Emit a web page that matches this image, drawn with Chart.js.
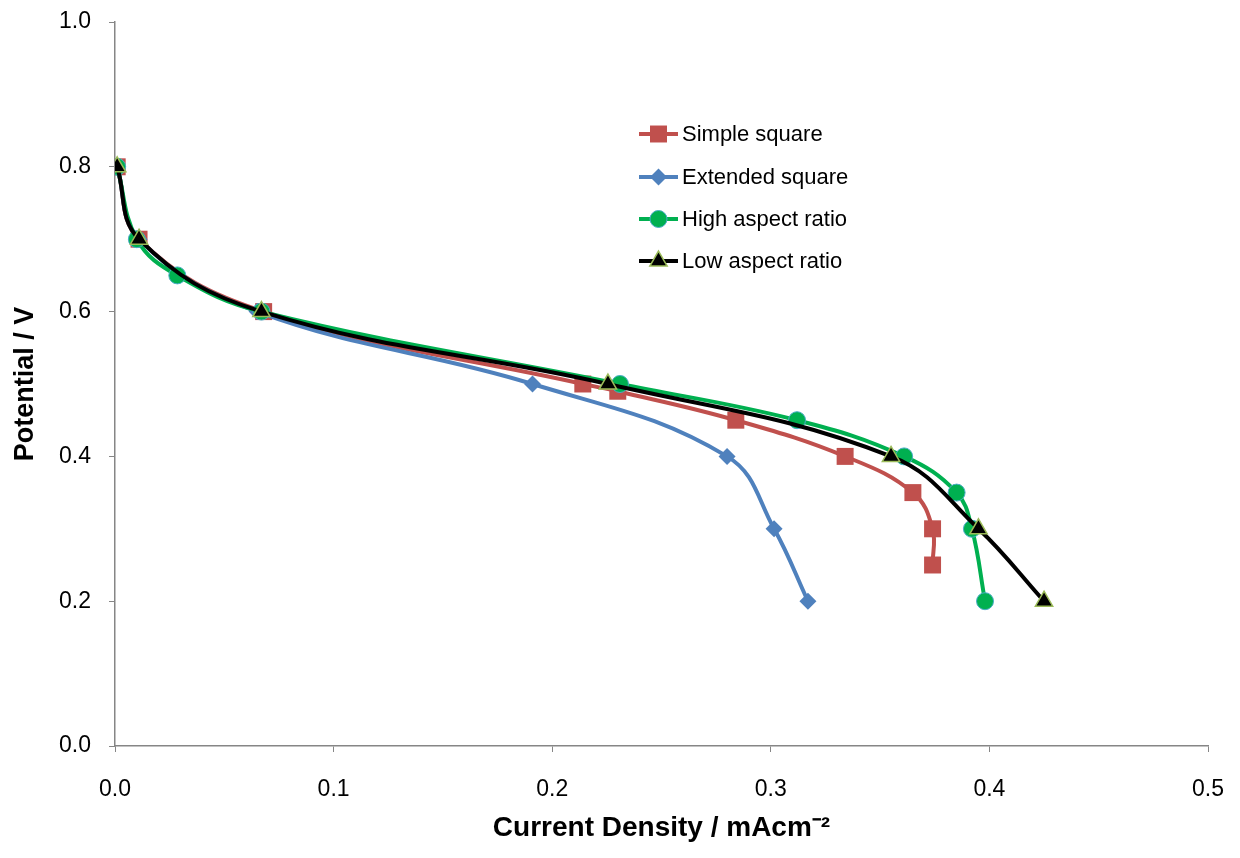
<!DOCTYPE html>
<html>
<head>
<meta charset="utf-8">
<script src="https://cdn.jsdelivr.net/npm/chart.js@4/dist/chart.umd.min.js"></script>
<style>
html,body{margin:0;padding:0;background:#fff;}
#wrap{width:1240px;height:858px;position:relative;}
</style>
</head>
<body>
<div id="wrap"><canvas id="c" width="1240" height="858"></canvas></div>
<script>
// ---- data ----
const seriesNames = ["Simple square", "Extended square", "High aspect ratio", "Low aspect ratio"];
const simpleX   = [0.001, 0.011, 0.068, 0.214, 0.230, 0.284, 0.334, 0.365, 0.374, 0.374];
const simpleY   = [0.80, 0.70, 0.60, 0.50, 0.49, 0.45, 0.40, 0.35, 0.30, 0.25];
const extendedX = [0.001, 0.011, 0.065, 0.191, 0.280, 0.3015, 0.317];
const extendedY = [0.80, 0.70, 0.60, 0.50, 0.40, 0.30, 0.20];
const highX     = [0.001, 0.010, 0.0285, 0.067, 0.231, 0.312, 0.361, 0.385, 0.392, 0.398];
const highY     = [0.80, 0.70, 0.65, 0.60, 0.50, 0.45, 0.40, 0.35, 0.30, 0.20];
const lowX      = [0.001, 0.011, 0.067, 0.2255, 0.355, 0.395, 0.425];
const lowY      = [0.80, 0.70, 0.60, 0.50, 0.40, 0.30, 0.20];
const xTicks = [0.0, 0.1, 0.2, 0.3, 0.4, 0.5];
const yTicks = [0.0, 0.2, 0.4, 0.6, 0.8, 1.0];

const FONT = "'Liberation Sans', Arial, sans-serif";
const pts = (xs, ys) => xs.map((x, i) => ({x: x, y: ys[i]}));

const styles = [
  {color: '#C0504D', point: 'rect',     radius: 12,  fill: '#C0504D', border: '#C0504D', bw: 0},
  {color: '#4F81BD', point: 'rectRot',  radius: 8.5, fill: '#4F81BD', border: '#4F81BD', bw: 0},
  {color: '#00B050', point: 'circle',   radius: 8.5, fill: '#00B050', border: '#4BACC6', bw: 1},
  {color: '#000000', point: 'triangle', radius: 10,  fill: '#000000', border: '#9BBB59', bw: 1.5}
];
const dataArr = [pts(simpleX, simpleY), pts(extendedX, extendedY), pts(highX, highY), pts(lowX, lowY)];

const datasets = seriesNames.map((name, i) => ({
  label: name,
  data: dataArr[i],
  borderColor: styles[i].color,
  borderWidth: 4,
  tension: 0.4,
  fill: false,
  pointStyle: styles[i].point,
  pointRadius: styles[i].radius,
  pointHoverRadius: styles[i].radius,
  pointBackgroundColor: styles[i].fill,
  pointBorderColor: styles[i].border,
  pointBorderWidth: styles[i].bw,
  order: 4 - i
}));

function drawMarker(ctx, s, x, y) {
  const r = s.radius;
  ctx.save();
  ctx.fillStyle = s.fill;
  ctx.strokeStyle = s.border;
  ctx.lineWidth = s.bw;
  ctx.beginPath();
  if (s.point === 'rect') {
    const h = r * Math.SQRT1_2;
    ctx.rect(x - h, y - h, 2 * h, 2 * h);
  } else if (s.point === 'rectRot') {
    ctx.moveTo(x, y - r); ctx.lineTo(x + r, y); ctx.lineTo(x, y + r); ctx.lineTo(x - r, y); ctx.closePath();
  } else if (s.point === 'circle') {
    ctx.arc(x, y, r, 0, Math.PI * 2);
  } else {
    for (let k = 0; k < 3; k++) {
      const a = k * 2 * Math.PI / 3;
      const px = x + Math.sin(a) * r, py = y - Math.cos(a) * r;
      if (k === 0) ctx.moveTo(px, py); else ctx.lineTo(px, py);
    }
    ctx.closePath();
  }
  ctx.fill();
  if (s.bw > 0) ctx.stroke();
  ctx.restore();
}

const legendPlugin = {
  id: 'innerLegend',
  afterDraw(chart) {
    const ctx = chart.ctx;
    const x0 = 639, x1 = 678, tx = 682;
    const ys = [134, 177, 219, 261];
    seriesNames.forEach((name, i) => {
      const s = styles[i];
      ctx.save();
      ctx.strokeStyle = s.color;
      ctx.lineWidth = 4;
      ctx.beginPath();
      ctx.moveTo(x0, ys[i]); ctx.lineTo(x1, ys[i]);
      ctx.stroke();
      ctx.restore();
      drawMarker(ctx, s, (x0 + x1) / 2, ys[i]);
      ctx.save();
      ctx.fillStyle = '#000';
      ctx.font = "22px " + FONT;
      ctx.textBaseline = 'middle';
      ctx.textAlign = 'left';
      ctx.fillText(name, tx, ys[i] + 1);
      ctx.restore();
    });
  }
};

const axisColor = '#868686';
new Chart(document.getElementById('c'), {
  type: 'line',
  data: {datasets: datasets},
  options: {
    responsive: false,
    animation: false,
    devicePixelRatio: 1,
    layout: {padding: {top: 22, right: 32, left: 0, bottom: 0}},
    plugins: {legend: {display: false}, tooltip: {enabled: false}},
    scales: {
      x: {
        type: 'linear',
        min: 0, max: 0.5,
        afterBuildTicks: (scale) => { scale.ticks = xTicks.map(v => ({value: v})); },
        afterFit: (scale) => {
          scale.height = 112;
          scale.paddingLeft = 0; scale.paddingRight = 0;
        },
        grid: {display: true, drawOnChartArea: false, drawTicks: true, tickLength: 6, color: axisColor, lineWidth: 1},
        border: {display: true, color: axisColor, width: 1.5},
        ticks: {
          padding: 24,
          color: '#000',
          font: {family: FONT, size: 23},
          maxRotation: 0,
          callback: (v) => Number(v).toFixed(1)
        },
        title: {
          display: true,
          text: 'Current Density / mAcm\u207B\u00B2',
          color: '#000',
          font: {family: FONT, size: 28, weight: 'bold'},
          padding: {top: 0, bottom: 13}
        }
      },
      y: {
        type: 'linear',
        min: 0, max: 1,
        afterBuildTicks: (scale) => { scale.ticks = yTicks.map(v => ({value: v})); },
        afterFit: (scale) => {
          scale.width = 115;
          scale.paddingTop = 0; scale.paddingBottom = 0;
        },
        grid: {display: true, drawOnChartArea: false, drawTicks: true, tickLength: 6, color: axisColor, lineWidth: 1},
        border: {display: true, color: axisColor, width: 1.5},
        ticks: {
          padding: 18,
          color: '#000',
          font: {family: FONT, size: 23},
          callback: (v) => Number(v).toFixed(1)
        },
        title: {
          display: true,
          text: 'Potential / V',
          color: '#000',
          font: {family: FONT, size: 27, weight: 'bold'},
          padding: {top: 9, bottom: 0}
        }
      }
    }
  },
  plugins: [legendPlugin]
});
</script>
</body>
</html>
